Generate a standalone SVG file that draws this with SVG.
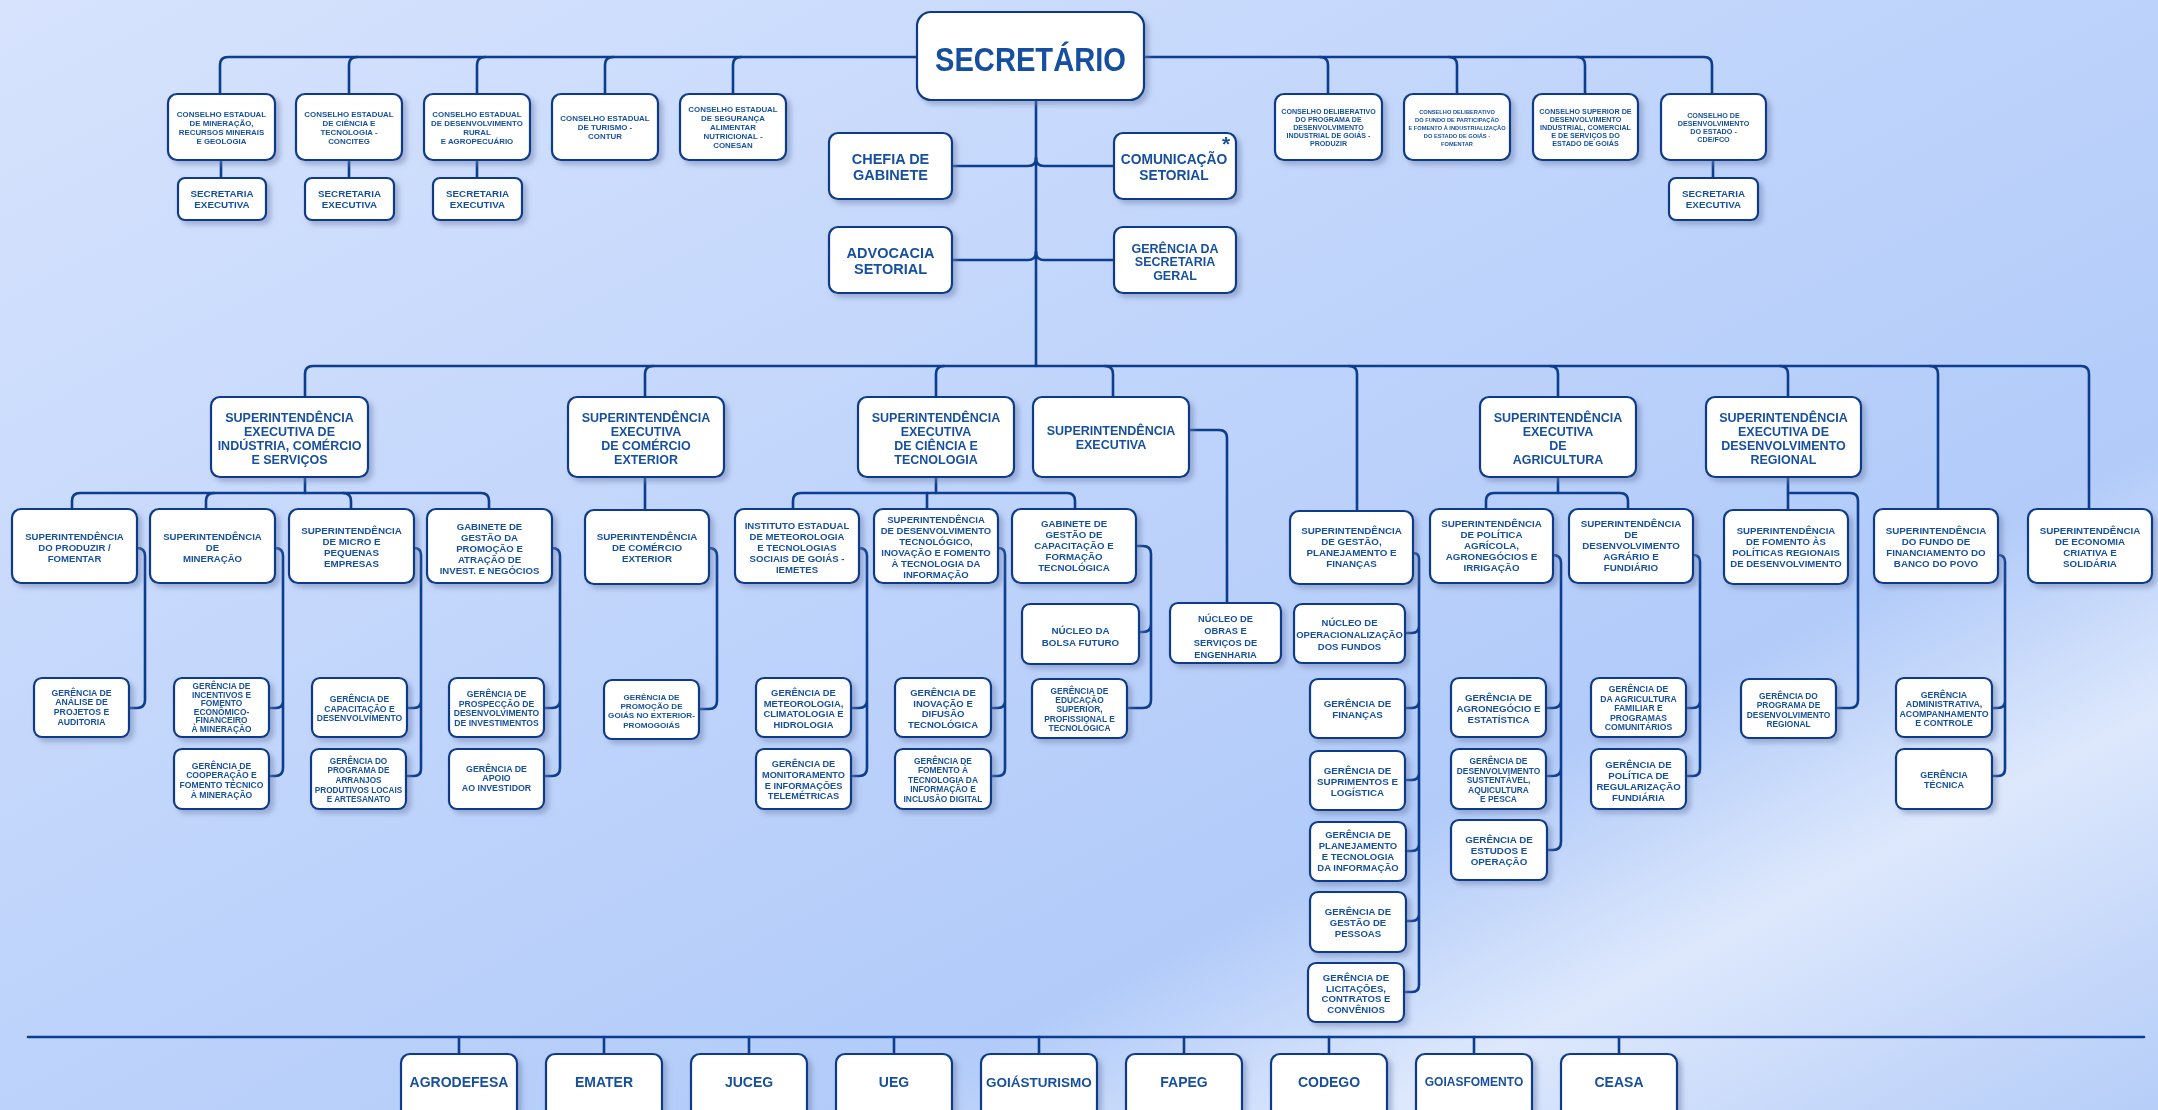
<svg xmlns="http://www.w3.org/2000/svg" width="2158" height="1110" viewBox="0 0 2158 1110">
<defs>
<linearGradient id="bg" x1="0" y1="0" x2="1" y2="1">
<stop offset="0" stop-color="#d7e3fd"/>
<stop offset="0.45" stop-color="#bfd4fb"/>
<stop offset="0.7" stop-color="#b2cbf9"/>
<stop offset="0.82" stop-color="#dde8fc"/>
<stop offset="0.92" stop-color="#c6d8fa"/>
<stop offset="1" stop-color="#b6cef8"/>
</linearGradient>
<filter id="sh" x="-10%" y="-10%" width="130%" height="135%">
<feDropShadow dx="4" dy="4" stdDeviation="2.5" flood-color="#6f82ad" flood-opacity="0.5"/>
</filter>
<style>
.b{fill:#fff;stroke:#0b3a8a;stroke-width:2.2}
.node{filter:url(#sh)}
text{font-family:"Liberation Sans",Arial,Helvetica,sans-serif;font-weight:700;fill:#17509f;text-anchor:middle}
.c{fill:none;stroke:#0c3d8e;stroke-width:2.6;stroke-linecap:round;stroke-linejoin:round}
</style>
</defs>
<rect x="0" y="0" width="2158" height="1110" fill="url(#bg)"/>

<g id="connectors">
<path class="c" d="M220,94 V65 Q220,57 228,57 H1704 Q1712,57 1712,65 V94"/>
<path class="c" d="M349,94 V65 Q349,57 357,57"/>
<path class="c" d="M477,94 V65 Q477,57 485,57"/>
<path class="c" d="M605,94 V65 Q605,57 613,57"/>
<path class="c" d="M733,94 V65 Q733,57 741,57"/>
<path class="c" d="M1320,57 Q1328,57 1328,65 V94"/>
<path class="c" d="M1449,57 Q1457,57 1457,65 V94"/>
<path class="c" d="M1577,57 Q1585,57 1585,65 V94"/>
<path class="c" d="M221,160 V178 M349,160 V178 M477,160 V178 M1713,160 V178"/>
<path class="c" d="M1036,100 V366"/>
<path class="c" d="M952,166 H1028 Q1036,166 1036,158"/>
<path class="c" d="M1114,166 H1044 Q1036,166 1036,158"/>
<path class="c" d="M952,260 H1028 Q1036,260 1036,252"/>
<path class="c" d="M1114,260 H1044 Q1036,260 1036,252"/>
<path class="c" d="M305,397 V374 Q305,366 313,366 H2081 Q2089,366 2089,374 V509"/>
<path class="c" d="M645,397 V374 Q645,366 653,366"/>
<path class="c" d="M936,397 V374 Q936,366 944,366"/>
<path class="c" d="M1105,366 Q1113,366 1113,374 V397"/>
<path class="c" d="M1349,366 Q1357,366 1357,374 V511"/>
<path class="c" d="M1550,366 Q1558,366 1558,374 V397"/>
<path class="c" d="M1780,366 Q1788,366 1788,374 V397"/>
<path class="c" d="M1930,366 Q1938,366 1938,374 V509"/>
<path class="c" d="M305,477 V493"/>
<path class="c" d="M72,509 V501 Q72,493 80,493 H481 Q489,493 489,501 V509"/>
<path class="c" d="M206,509 V501 Q206,493 214,493"/>
<path class="c" d="M343,493 Q351,493 351,501 V509"/>
<path class="c" d="M645,477 V510"/>
<path class="c" d="M936,477 V493"/>
<path class="c" d="M793,509 V501 Q793,493 801,493 H1067 Q1075,493 1075,501 V509"/>
<path class="c" d="M927,493 V509"/>
<path class="c" d="M1189,430 H1219 Q1227,430 1227,438 V603"/>
<path class="c" d="M1558,477 V493"/>
<path class="c" d="M1486,509 V501 Q1486,493 1494,493 H1620 Q1628,493 1628,501 V509"/>
<path class="c" d="M1788,477 V510"/>
<path class="c" d="M1788,493 H1850 Q1858,493 1858,501 V700 Q1858,708 1850,708 H1836"/>
<path class="c" d="M137,548 Q145,548 145,556 V700 Q145,708 137,708 H129"/>
<path class="c" d="M275,548 Q283,548 283,556 V768 Q283,776 275,776 H269 M269,708 H276 Q283,708 283,701"/>
<path class="c" d="M414,548 Q421,548 421,555 V769 Q421,776 414,776 H406 M407,708 H414 Q421,708 421,701"/>
<path class="c" d="M552,548 Q560,548 560,556 V768 Q560,776 552,776 H544 M544,708 H552 Q560,708 560,700"/>
<path class="c" d="M709,548 Q717,548 717,556 V701 Q717,709 709,709 H699"/>
<path class="c" d="M859,548 Q867,548 867,556 V768 Q867,776 859,776 H851 M851,708 H859 Q867,708 867,700"/>
<path class="c" d="M998,548 Q1005,548 1005,555 V769 Q1005,776 998,776 H991 M991,708 H998 Q1005,708 1005,701"/>
<path class="c" d="M1136,546 H1143 Q1151,546 1151,554 V700 Q1151,708 1143,708 H1127 M1139,632 H1143 Q1151,632 1151,624"/>
<path class="c" d="M1413,553 Q1419,553 1419,559 V985 Q1419,992 1412,992 H1404 M1405,633 H1412 Q1419,633 1419,626 M1405,708 H1412 Q1419,708 1419,701 M1405,780 H1412 Q1419,780 1419,773 M1406,851 H1412 Q1419,851 1419,844 M1406,921 H1412 Q1419,921 1419,914"/>
<path class="c" d="M1553,555 Q1561,555 1561,563 V842 Q1561,850 1553,850 H1547 M1546,708 H1553 Q1561,708 1561,700 M1546,776 H1553 Q1561,776 1561,768"/>
<path class="c" d="M1693,555 Q1700,555 1700,562 V769 Q1700,776 1693,776 H1686 M1686,708 H1693 Q1700,708 1700,701"/>
<path class="c" d="M1998,555 Q2005,555 2005,562 V769 Q2005,776 1998,776 H1992 M1992,708 H1998 Q2005,708 2005,701"/>
<path class="c" d="M28,1037 H2144" stroke-width="4"/>
<path class="c" d="M459,1037 V1054 M604,1037 V1054 M749,1037 V1054 M894,1037 V1054 M1039,1037 V1054 M1184,1037 V1054 M1329,1037 V1054 M1474,1037 V1054 M1619,1037 V1054"/>
</g>

<g id="secretario" class="node"><rect class="b" x="917" y="12" width="227" height="88" rx="14" stroke-width="3"/><text x="1030.5" y="71" font-size="33" textLength="191" lengthAdjust="spacingAndGlyphs">SECRETÁRIO</text></g>

<g id="conselho-mineracao" class="node"><rect class="b" x="168" y="94" width="107" height="66" rx="9"/><text font-size="7.9"><tspan x="221.5" y="116.8">CONSELHO ESTADUAL</tspan><tspan x="221.5" y="125.8">DE MINERAÇÃO,</tspan><tspan x="221.5" y="134.8">RECURSOS MINERAIS</tspan><tspan x="221.5" y="143.8">E GEOLOGIA</tspan></text></g>
<g id="conselho-ciencia" class="node"><rect class="b" x="296" y="94" width="106" height="66" rx="9"/><text font-size="7.9"><tspan x="349" y="116.8">CONSELHO ESTADUAL</tspan><tspan x="349" y="125.8">DE CIÊNCIA E</tspan><tspan x="349" y="134.8">TECNOLOGIA -</tspan><tspan x="349" y="143.8">CONCITEG</tspan></text></g>
<g id="conselho-rural" class="node"><rect class="b" x="424" y="94" width="106" height="66" rx="9"/><text font-size="7.9"><tspan x="477" y="116.8">CONSELHO ESTADUAL</tspan><tspan x="477" y="125.8">DE DESENVOLVIMENTO</tspan><tspan x="477" y="134.8">RURAL</tspan><tspan x="477" y="143.8">E AGROPECUÁRIO</tspan></text></g>
<g id="conselho-turismo" class="node"><rect class="b" x="552" y="94" width="106" height="66" rx="9"/><text font-size="7.9"><tspan x="605" y="120.8">CONSELHO ESTADUAL</tspan><tspan x="605" y="129.8">DE TURISMO -</tspan><tspan x="605" y="138.8">CONTUR</tspan></text></g>
<g id="conselho-conesan" class="node"><rect class="b" x="680" y="94" width="106" height="66" rx="9"/><text font-size="7.9"><tspan x="733" y="111.8">CONSELHO ESTADUAL</tspan><tspan x="733" y="120.8">DE SEGURANÇA</tspan><tspan x="733" y="129.8">ALIMENTAR</tspan><tspan x="733" y="138.8">NUTRICIONAL -</tspan><tspan x="733" y="147.8">CONESAN</tspan></text></g>
<g id="conselho-produzir" class="node"><rect class="b" x="1275" y="94" width="107" height="66" rx="9"/><text font-size="7.1"><tspan x="1328.5" y="114">CONSELHO DELIBERATIVO</tspan><tspan x="1328.5" y="122">DO PROGRAMA DE</tspan><tspan x="1328.5" y="130">DESENVOLVIMENTO</tspan><tspan x="1328.5" y="138">INDUSTRIAL DE GOIÁS -</tspan><tspan x="1328.5" y="146">PRODUZIR</tspan></text></g>
<g id="conselho-fomentar" class="node"><rect class="b" x="1404" y="94" width="106" height="66" rx="9"/><text font-size="5.7"><tspan x="1457" y="113.5">CONSELHO DELIBERATIVO</tspan><tspan x="1457" y="121.5">DO FUNDO DE PARTICIPAÇÃO</tspan><tspan x="1457" y="129.5">E FOMENTO À INDUSTRIALIZAÇÃO</tspan><tspan x="1457" y="137.5">DO ESTADO DE GOIÁS -</tspan><tspan x="1457" y="145.5">FOMENTAR</tspan></text></g>
<g id="conselho-superior" class="node"><rect class="b" x="1533" y="94" width="105" height="66" rx="9"/><text font-size="7.2"><tspan x="1585.5" y="114">CONSELHO SUPERIOR DE</tspan><tspan x="1585.5" y="122">DESENVOLVIMENTO</tspan><tspan x="1585.5" y="130">INDUSTRIAL, COMERCIAL</tspan><tspan x="1585.5" y="138">E DE SERVIÇOS DO</tspan><tspan x="1585.5" y="146">ESTADO DE GOIÁS</tspan></text></g>
<g id="conselho-cde" class="node"><rect class="b" x="1661" y="94" width="105" height="66" rx="9"/><text font-size="7.2"><tspan x="1713.5" y="118">CONSELHO DE</tspan><tspan x="1713.5" y="126">DESENVOLVIMENTO</tspan><tspan x="1713.5" y="134">DO ESTADO -</tspan><tspan x="1713.5" y="142">CDE/FCO</tspan></text></g>

<g id="sec-exec-1" class="node"><rect class="b" x="178" y="178" width="88" height="42" rx="7"/><text font-size="9.8"><tspan x="222" y="196.5">SECRETARIA</tspan><tspan x="222" y="207.5">EXECUTIVA</tspan></text></g>
<g id="sec-exec-2" class="node"><rect class="b" x="305" y="178" width="89" height="42" rx="7"/><text font-size="9.8"><tspan x="349.5" y="196.5">SECRETARIA</tspan><tspan x="349.5" y="207.5">EXECUTIVA</tspan></text></g>
<g id="sec-exec-3" class="node"><rect class="b" x="433" y="178" width="89" height="42" rx="7"/><text font-size="9.8"><tspan x="477.5" y="196.5">SECRETARIA</tspan><tspan x="477.5" y="207.5">EXECUTIVA</tspan></text></g>
<g id="sec-exec-4" class="node"><rect class="b" x="1669" y="178" width="89" height="42" rx="7"/><text font-size="9.8"><tspan x="1713.5" y="196.5">SECRETARIA</tspan><tspan x="1713.5" y="207.5">EXECUTIVA</tspan></text></g>

<g id="chefia-gabinete" class="node"><rect class="b" x="829" y="133" width="123" height="66" rx="9"/><text font-size="14.5"><tspan x="890.5" y="163.5">CHEFIA DE</tspan><tspan x="890.5" y="179.5">GABINETE</tspan></text></g>
<g id="comunicacao" class="node"><rect class="b" x="1114" y="133" width="122" height="66" rx="9"/><text font-size="13.8"><tspan x="1174" y="164">COMUNICAÇÃO</tspan><tspan x="1174" y="180">SETORIAL</tspan></text><text x="1226" y="151" font-size="21">*</text></g>
<g id="advocacia" class="node"><rect class="b" x="829" y="227" width="123" height="66" rx="9"/><text font-size="14.5"><tspan x="890.5" y="257.5">ADVOCACIA</tspan><tspan x="890.5" y="273.5">SETORIAL</tspan></text></g>
<g id="gerencia-secretaria-geral" class="node"><rect class="b" x="1114" y="227" width="122" height="66" rx="9"/><text font-size="12.5"><tspan x="1175" y="252.5">GERÊNCIA DA</tspan><tspan x="1175" y="266">SECRETARIA</tspan><tspan x="1175" y="279.5">GERAL</tspan></text></g>

<g id="se-industria" class="node"><rect class="b" x="211" y="397" width="157" height="80" rx="9"/><text font-size="12.5"><tspan x="289.5" y="422">SUPERINTENDÊNCIA</tspan><tspan x="289.5" y="436">EXECUTIVA DE</tspan><tspan x="289.5" y="450">INDÚSTRIA, COMÉRCIO</tspan><tspan x="289.5" y="464">E SERVIÇOS</tspan></text></g>
<g id="se-comercio-exterior" class="node"><rect class="b" x="568" y="397" width="156" height="80" rx="9"/><text font-size="12.5"><tspan x="646" y="422">SUPERINTENDÊNCIA</tspan><tspan x="646" y="436">EXECUTIVA</tspan><tspan x="646" y="450">DE COMÉRCIO</tspan><tspan x="646" y="464">EXTERIOR</tspan></text></g>
<g id="se-ciencia" class="node"><rect class="b" x="858" y="397" width="156" height="80" rx="9"/><text font-size="12.5"><tspan x="936" y="422">SUPERINTENDÊNCIA</tspan><tspan x="936" y="436">EXECUTIVA</tspan><tspan x="936" y="450">DE CIÊNCIA E</tspan><tspan x="936" y="464">TECNOLOGIA</tspan></text></g>
<g id="se-executiva" class="node"><rect class="b" x="1033" y="397" width="156" height="80" rx="9"/><text font-size="12.5"><tspan x="1111" y="435">SUPERINTENDÊNCIA</tspan><tspan x="1111" y="449">EXECUTIVA</tspan></text></g>
<g id="se-agricultura" class="node"><rect class="b" x="1480" y="397" width="156" height="80" rx="9"/><text font-size="12.5"><tspan x="1558" y="422">SUPERINTENDÊNCIA</tspan><tspan x="1558" y="436">EXECUTIVA</tspan><tspan x="1558" y="450">DE</tspan><tspan x="1558" y="464">AGRICULTURA</tspan></text></g>
<g id="se-desenv-regional" class="node"><rect class="b" x="1706" y="397" width="155" height="80" rx="9"/><text font-size="12.5"><tspan x="1783.5" y="422">SUPERINTENDÊNCIA</tspan><tspan x="1783.5" y="436">EXECUTIVA DE</tspan><tspan x="1783.5" y="450">DESENVOLVIMENTO</tspan><tspan x="1783.5" y="464">REGIONAL</tspan></text></g>

<g id="sup-produzir" class="node"><rect class="b" x="12" y="509" width="125" height="74" rx="9"/><text font-size="9.6"><tspan x="74.5" y="539.5">SUPERINTENDÊNCIA</tspan><tspan x="74.5" y="550.5">DO PRODUZIR /</tspan><tspan x="74.5" y="561.5">FOMENTAR</tspan></text></g>
<g id="sup-mineracao" class="node"><rect class="b" x="150" y="509" width="125" height="74" rx="9"/><text font-size="9.6"><tspan x="212.5" y="539.5">SUPERINTENDÊNCIA</tspan><tspan x="212.5" y="550.5">DE</tspan><tspan x="212.5" y="561.5">MINERAÇÃO</tspan></text></g>
<g id="sup-micro" class="node"><rect class="b" x="289" y="509" width="125" height="74" rx="9"/><text font-size="9.8"><tspan x="351.5" y="534">SUPERINTENDÊNCIA</tspan><tspan x="351.5" y="545">DE MICRO E</tspan><tspan x="351.5" y="556">PEQUENAS</tspan><tspan x="351.5" y="567">EMPRESAS</tspan></text></g>
<g id="gab-promocao" class="node"><rect class="b" x="427" y="509" width="125" height="74" rx="9"/><text font-size="9.6"><tspan x="489.5" y="530">GABINETE DE</tspan><tspan x="489.5" y="541">GESTÃO DA</tspan><tspan x="489.5" y="552">PROMOÇÃO E</tspan><tspan x="489.5" y="563">ATRAÇÃO DE</tspan><tspan x="489.5" y="574">INVEST. E NEGÓCIOS</tspan></text></g>
<g id="sup-comercio-exterior" class="node"><rect class="b" x="585" y="510" width="124" height="74" rx="9"/><text font-size="9.8"><tspan x="647" y="539.5">SUPERINTENDÊNCIA</tspan><tspan x="647" y="550.5">DE COMÉRCIO</tspan><tspan x="647" y="561.5">EXTERIOR</tspan></text></g>
<g id="iemetes" class="node"><rect class="b" x="735" y="509" width="124" height="74" rx="9"/><text font-size="9.6"><tspan x="797" y="529">INSTITUTO ESTADUAL</tspan><tspan x="797" y="540">DE METEOROLOGIA</tspan><tspan x="797" y="551">E TECNOLOGIAS</tspan><tspan x="797" y="562">SOCIAIS DE GOIÁS -</tspan><tspan x="797" y="573">IEMETES</tspan></text></g>
<g id="sup-desenv-tecnologico" class="node"><rect class="b" x="874" y="509" width="124" height="74" rx="9"/><text font-size="9.5"><tspan x="936" y="522.7">SUPERINTENDÊNCIA</tspan><tspan x="936" y="533.7">DE DESENVOLVIMENTO</tspan><tspan x="936" y="544.7">TECNOLÓGICO,</tspan><tspan x="936" y="555.7">INOVAÇÃO E FOMENTO</tspan><tspan x="936" y="566.7">À TECNOLOGIA DA</tspan><tspan x="936" y="577.7">INFORMAÇÃO</tspan></text></g>
<g id="gab-capacitacao" class="node"><rect class="b" x="1012" y="509" width="124" height="74" rx="9"/><text font-size="9.7"><tspan x="1074" y="526.7">GABINETE DE</tspan><tspan x="1074" y="537.7">GESTÃO DE</tspan><tspan x="1074" y="548.7">CAPACITAÇÃO E</tspan><tspan x="1074" y="559.7">FORMAÇÃO</tspan><tspan x="1074" y="570.7">TECNOLÓGICA</tspan></text></g>
<g id="sup-gestao" class="node"><rect class="b" x="1290" y="511" width="123" height="73" rx="9"/><text font-size="9.8"><tspan x="1351.5" y="534">SUPERINTENDÊNCIA</tspan><tspan x="1351.5" y="545">DE GESTÃO,</tspan><tspan x="1351.5" y="556">PLANEJAMENTO E</tspan><tspan x="1351.5" y="567">FINANÇAS</tspan></text></g>
<g id="sup-politica-agricola" class="node"><rect class="b" x="1430" y="509" width="123" height="74" rx="9"/><text font-size="9.8"><tspan x="1491.5" y="526.7">SUPERINTENDÊNCIA</tspan><tspan x="1491.5" y="537.7">DE POLÍTICA</tspan><tspan x="1491.5" y="548.7">AGRÍCOLA,</tspan><tspan x="1491.5" y="559.7">AGRONEGÓCIOS E</tspan><tspan x="1491.5" y="570.7">IRRIGAÇÃO</tspan></text></g>
<g id="sup-desenv-agrario" class="node"><rect class="b" x="1569" y="509" width="124" height="74" rx="9"/><text font-size="9.8"><tspan x="1631" y="526.7">SUPERINTENDÊNCIA</tspan><tspan x="1631" y="537.7">DE</tspan><tspan x="1631" y="548.7">DESENVOLVIMENTO</tspan><tspan x="1631" y="559.7">AGRÁRIO E</tspan><tspan x="1631" y="570.7">FUNDIÁRIO</tspan></text></g>
<g id="sup-fomento-regional" class="node"><rect class="b" x="1724" y="510" width="124" height="74" rx="9"/><text font-size="9.6"><tspan x="1786" y="534">SUPERINTENDÊNCIA</tspan><tspan x="1786" y="545">DE FOMENTO ÀS</tspan><tspan x="1786" y="556">POLÍTICAS REGIONAIS</tspan><tspan x="1786" y="567">DE DESENVOLVIMENTO</tspan></text></g>
<g id="sup-banco-povo" class="node"><rect class="b" x="1874" y="509" width="124" height="74" rx="9"/><text font-size="9.8"><tspan x="1936" y="534">SUPERINTENDÊNCIA</tspan><tspan x="1936" y="545">DO FUNDO DE</tspan><tspan x="1936" y="556">FINANCIAMENTO DO</tspan><tspan x="1936" y="567">BANCO DO POVO</tspan></text></g>
<g id="sup-economia-criativa" class="node"><rect class="b" x="2028" y="509" width="124" height="74" rx="9"/><text font-size="9.8"><tspan x="2090" y="534">SUPERINTENDÊNCIA</tspan><tspan x="2090" y="545">DE ECONOMIA</tspan><tspan x="2090" y="556">CRIATIVA E</tspan><tspan x="2090" y="567">SOLIDÁRIA</tspan></text></g>

<g id="ger-analise" class="node"><rect class="b" x="34" y="678" width="95" height="59" rx="8"/><text font-size="8.7"><tspan x="81.5" y="695.8">GERÊNCIA DE</tspan><tspan x="81.5" y="705.4">ANÁLISE DE</tspan><tspan x="81.5" y="715">PROJETOS E</tspan><tspan x="81.5" y="724.6">AUDITORIA</tspan></text></g>
<g id="ger-incentivos" class="node"><rect class="b" x="174" y="678" width="95" height="59" rx="8"/><text font-size="8.4"><tspan x="221.5" y="689">GERÊNCIA DE</tspan><tspan x="221.5" y="697.6">INCENTIVOS E</tspan><tspan x="221.5" y="706.2">FOMENTO</tspan><tspan x="221.5" y="714.8">ECONÔMICO-</tspan><tspan x="221.5" y="723.4">FINANCEIRO</tspan><tspan x="221.5" y="732">À MINERAÇÃO</tspan></text></g>
<g id="ger-cooperacao" class="node"><rect class="b" x="174" y="749" width="95" height="60" rx="8"/><text font-size="8.6"><tspan x="221.5" y="768.7">GERÊNCIA DE</tspan><tspan x="221.5" y="778.3">COOPERAÇÃO E</tspan><tspan x="221.5" y="787.9">FOMENTO TÉCNICO</tspan><tspan x="221.5" y="797.5">À MINERAÇÃO</tspan></text></g>
<g id="ger-capacitacao" class="node"><rect class="b" x="312" y="678" width="95" height="59" rx="8"/><text font-size="8.6"><tspan x="359.5" y="702">GERÊNCIA DE</tspan><tspan x="359.5" y="711.6">CAPACITAÇÃO E</tspan><tspan x="359.5" y="721.2">DESENVOLVIMENTO</tspan></text></g>
<g id="ger-arranjos" class="node"><rect class="b" x="311" y="749" width="95" height="60" rx="8"/><text font-size="8.2"><tspan x="358.5" y="763.7">GERÊNCIA DO</tspan><tspan x="358.5" y="773.3">PROGRAMA DE</tspan><tspan x="358.5" y="782.9">ARRANJOS</tspan><tspan x="358.5" y="792.5">PRODUTIVOS LOCAIS</tspan><tspan x="358.5" y="802.1">E ARTESANATO</tspan></text></g>
<g id="ger-prospeccao" class="node"><rect class="b" x="449" y="678" width="95" height="59" rx="8"/><text font-size="8.6"><tspan x="496.5" y="697">GERÊNCIA DE</tspan><tspan x="496.5" y="706.7">PROSPECÇÃO DE</tspan><tspan x="496.5" y="716.4">DESENVOLVIMENTO</tspan><tspan x="496.5" y="726.1">DE INVESTIMENTOS</tspan></text></g>
<g id="ger-apoio" class="node"><rect class="b" x="449" y="749" width="95" height="60" rx="8"/><text font-size="8.8"><tspan x="496.5" y="771.5">GERÊNCIA DE</tspan><tspan x="496.5" y="781.2">APOIO</tspan><tspan x="496.5" y="790.9">AO INVESTIDOR</tspan></text></g>
<g id="ger-promogoias" class="node"><rect class="b" x="604" y="680" width="95" height="59" rx="8"/><text font-size="8.1"><tspan x="651.5" y="699.6">GERÊNCIA DE</tspan><tspan x="651.5" y="708.9">PROMOÇÃO DE</tspan><tspan x="651.5" y="718.2">GOIÁS NO EXTERIOR-</tspan><tspan x="651.5" y="727.5">PROMOGOIÁS</tspan></text></g>
<g id="ger-meteorologia" class="node"><rect class="b" x="756" y="678" width="95" height="59" rx="8"/><text font-size="9.4"><tspan x="803.5" y="696">GERÊNCIA DE</tspan><tspan x="803.5" y="706.6">METEOROLOGIA,</tspan><tspan x="803.5" y="717.2">CLIMATOLOGIA E</tspan><tspan x="803.5" y="727.8">HIDROLOGIA</tspan></text></g>
<g id="ger-monitoramento" class="node"><rect class="b" x="756" y="749" width="95" height="60" rx="8"/><text font-size="9.2"><tspan x="803.5" y="767.4">GERÊNCIA DE</tspan><tspan x="803.5" y="778">MONITORAMENTO</tspan><tspan x="803.5" y="788.6">E INFORMAÇÕES</tspan><tspan x="803.5" y="799.2">TELEMÉTRICAS</tspan></text></g>
<g id="ger-inovacao" class="node"><rect class="b" x="895" y="678" width="96" height="59" rx="8"/><text font-size="9.5"><tspan x="943" y="696">GERÊNCIA DE</tspan><tspan x="943" y="706.6">INOVAÇÃO E</tspan><tspan x="943" y="717.2">DIFUSÃO</tspan><tspan x="943" y="727.8">TECNOLÓGICA</tspan></text></g>
<g id="ger-fomento-ti" class="node"><rect class="b" x="895" y="749" width="96" height="60" rx="8"/><text font-size="8.4"><tspan x="943" y="764">GERÊNCIA DE</tspan><tspan x="943" y="773.4">FOMENTO À</tspan><tspan x="943" y="782.8">TECNOLOGIA DA</tspan><tspan x="943" y="792.2">INFORMAÇÃO E</tspan><tspan x="943" y="801.6">INCLUSÃO DIGITAL</tspan></text></g>
<g id="nucleo-bolsa" class="node"><rect class="b" x="1022" y="604" width="117" height="60" rx="8"/><text font-size="9.8"><tspan x="1080.5" y="633.5">NÚCLEO DA</tspan><tspan x="1080.5" y="645.5">BOLSA FUTURO</tspan></text></g>
<g id="ger-educacao" class="node"><rect class="b" x="1032" y="679" width="95" height="59" rx="8"/><text font-size="8.4"><tspan x="1079.5" y="693.7">GERÊNCIA DE</tspan><tspan x="1079.5" y="703">EDUCAÇÃO</tspan><tspan x="1079.5" y="712.3">SUPERIOR,</tspan><tspan x="1079.5" y="721.6">PROFISSIONAL E</tspan><tspan x="1079.5" y="730.9">TECNOLÓGICA</tspan></text></g>
<g id="nucleo-obras" class="node"><rect class="b" x="1170" y="603" width="111" height="60" rx="8"/><text font-size="9.3"><tspan x="1225.5" y="621.6">NÚCLEO DE</tspan><tspan x="1225.5" y="633.8">OBRAS E</tspan><tspan x="1225.5" y="646">SERVIÇOS DE</tspan><tspan x="1225.5" y="658.2">ENGENHARIA</tspan></text></g>
<g id="nucleo-fundos" class="node"><rect class="b" x="1294" y="604" width="111" height="59" rx="8"/><text font-size="9.5"><tspan x="1349.5" y="626.4">NÚCLEO DE</tspan><tspan x="1349.5" y="638.4">OPERACIONALIZAÇÃO</tspan><tspan x="1349.5" y="650.4">DOS FUNDOS</tspan></text></g>
<g id="ger-financas" class="node"><rect class="b" x="1310" y="679" width="95" height="59" rx="8"/><text font-size="9.8"><tspan x="1357.5" y="706.8">GERÊNCIA DE</tspan><tspan x="1357.5" y="717.8">FINANÇAS</tspan></text></g>
<g id="ger-suprimentos" class="node"><rect class="b" x="1310" y="751" width="95" height="59" rx="8"/><text font-size="9.8"><tspan x="1357.5" y="774">GERÊNCIA DE</tspan><tspan x="1357.5" y="785">SUPRIMENTOS E</tspan><tspan x="1357.5" y="796">LOGÍSTICA</tspan></text></g>
<g id="ger-planejamento" class="node"><rect class="b" x="1310" y="822" width="96" height="59" rx="8"/><text font-size="9.5"><tspan x="1358" y="838.4">GERÊNCIA DE</tspan><tspan x="1358" y="849.2">PLANEJAMENTO</tspan><tspan x="1358" y="860">E TECNOLOGIA</tspan><tspan x="1358" y="870.8">DA INFORMAÇÃO</tspan></text></g>
<g id="ger-pessoas" class="node"><rect class="b" x="1310" y="892" width="96" height="60" rx="8"/><text font-size="9.6"><tspan x="1358" y="915">GERÊNCIA DE</tspan><tspan x="1358" y="926">GESTÃO DE</tspan><tspan x="1358" y="937">PESSOAS</tspan></text></g>
<g id="ger-licitacoes" class="node"><rect class="b" x="1308" y="963" width="96" height="59" rx="8"/><text font-size="9.6"><tspan x="1356" y="980.7">GERÊNCIA DE</tspan><tspan x="1356" y="991.5">LICITAÇÕES,</tspan><tspan x="1356" y="1002.3">CONTRATOS E</tspan><tspan x="1356" y="1013.1">CONVÊNIOS</tspan></text></g>
<g id="ger-agronegocio" class="node"><rect class="b" x="1451" y="678" width="95" height="59" rx="8"/><text font-size="9.7"><tspan x="1498.5" y="701">GERÊNCIA DE</tspan><tspan x="1498.5" y="712">AGRONEGÓCIO E</tspan><tspan x="1498.5" y="723">ESTATÍSTICA</tspan></text></g>
<g id="ger-desenv-sustentavel" class="node"><rect class="b" x="1451" y="749" width="95" height="60" rx="8"/><text font-size="8.4"><tspan x="1498.5" y="764">GERÊNCIA DE</tspan><tspan x="1498.5" y="773.6">DESENVOLVIMENTO</tspan><tspan x="1498.5" y="783.2">SUSTENTÁVEL,</tspan><tspan x="1498.5" y="792.8">AQUICULTURA</tspan><tspan x="1498.5" y="802.4">E PESCA</tspan></text></g>
<g id="ger-estudos" class="node"><rect class="b" x="1451" y="820" width="96" height="60" rx="8"/><text font-size="9.8"><tspan x="1499" y="842.7">GERÊNCIA DE</tspan><tspan x="1499" y="853.7">ESTUDOS E</tspan><tspan x="1499" y="864.7">OPERAÇÃO</tspan></text></g>
<g id="ger-agricultura-familiar" class="node"><rect class="b" x="1591" y="678" width="95" height="59" rx="8"/><text font-size="8.6"><tspan x="1638.5" y="692.4">GERÊNCIA DE</tspan><tspan x="1638.5" y="701.9">DA AGRICULTURA</tspan><tspan x="1638.5" y="711.4">FAMILIAR E</tspan><tspan x="1638.5" y="720.9">PROGRAMAS</tspan><tspan x="1638.5" y="730.4">COMUNITÁRIOS</tspan></text></g>
<g id="ger-regularizacao" class="node"><rect class="b" x="1591" y="749" width="95" height="60" rx="8"/><text font-size="9.6"><tspan x="1638.5" y="767.5">GERÊNCIA DE</tspan><tspan x="1638.5" y="778.5">POLÍTICA DE</tspan><tspan x="1638.5" y="789.5">REGULARIZAÇÃO</tspan><tspan x="1638.5" y="800.5">FUNDIÁRIA</tspan></text></g>
<g id="ger-programa-regional" class="node"><rect class="b" x="1741" y="679" width="95" height="59" rx="8"/><text font-size="8.4"><tspan x="1788.5" y="699">GERÊNCIA DO</tspan><tspan x="1788.5" y="708.3">PROGRAMA DE</tspan><tspan x="1788.5" y="717.6">DESENVOLVIMENTO</tspan><tspan x="1788.5" y="726.9">REGIONAL</tspan></text></g>
<g id="ger-administrativa" class="node"><rect class="b" x="1896" y="678" width="96" height="59" rx="8"/><text font-size="8.8"><tspan x="1944" y="697.5">GERÊNCIA</tspan><tspan x="1944" y="707">ADMINISTRATIVA,</tspan><tspan x="1944" y="716.5">ACOMPANHAMENTO</tspan><tspan x="1944" y="726">E CONTROLE</tspan></text></g>
<g id="ger-tecnica" class="node"><rect class="b" x="1896" y="749" width="96" height="60" rx="8"/><text font-size="9"><tspan x="1944" y="778">GERÊNCIA</tspan><tspan x="1944" y="788.3">TÉCNICA</tspan></text></g>

<g id="agrodefesa" class="node"><rect class="b" x="401" y="1054" width="116" height="70" rx="9"/><text x="459" y="1087" font-size="14">AGRODEFESA</text></g>
<g id="emater" class="node"><rect class="b" x="546" y="1054" width="116" height="70" rx="9"/><text x="604" y="1087" font-size="14">EMATER</text></g>
<g id="juceg" class="node"><rect class="b" x="691" y="1054" width="116" height="70" rx="9"/><text x="749" y="1087" font-size="14">JUCEG</text></g>
<g id="ueg" class="node"><rect class="b" x="836" y="1054" width="116" height="70" rx="9"/><text x="894" y="1087" font-size="14">UEG</text></g>
<g id="goiasturismo" class="node"><rect class="b" x="981" y="1054" width="116" height="70" rx="9"/><text x="1039" y="1087" font-size="13.5">GOIÁSTURISMO</text></g>
<g id="fapeg" class="node"><rect class="b" x="1126" y="1054" width="116" height="70" rx="9"/><text x="1184" y="1087" font-size="14">FAPEG</text></g>
<g id="codego" class="node"><rect class="b" x="1271" y="1054" width="116" height="70" rx="9"/><text x="1329" y="1087" font-size="14">CODEGO</text></g>
<g id="goiasfomento" class="node"><rect class="b" x="1416" y="1054" width="116" height="70" rx="9"/><text x="1474" y="1086" font-size="12">GOIASFOMENTO</text></g>
<g id="ceasa" class="node"><rect class="b" x="1561" y="1054" width="116" height="70" rx="9"/><text x="1619" y="1087" font-size="14">CEASA</text></g>
</svg>
